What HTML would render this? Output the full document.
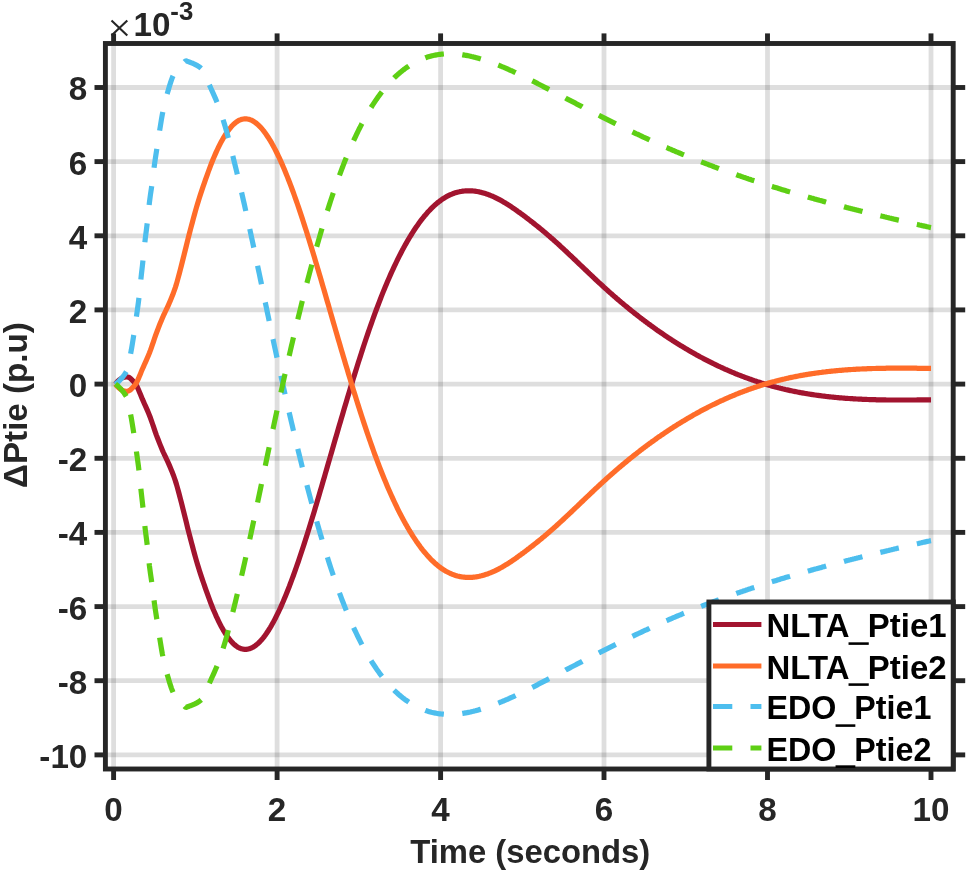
<!DOCTYPE html>
<html><head><meta charset="utf-8"><title>chart</title>
<style>
html,body{margin:0;padding:0;background:#fff;}
body{width:967px;height:872px;overflow:hidden;}
svg{display:block;will-change:transform;}
text{font-family:"Liberation Sans",sans-serif;}
.b,.b text{font-weight:bold;}
</style></head><body>
<svg width="967" height="872" viewBox="0 0 967 872">
<rect width="967" height="872" fill="#fff"/>
<g stroke="rgba(0,0,0,0.128)" stroke-width="4.8" fill="none">
<line x1="113.6" y1="43.5" x2="113.6" y2="769.0"/>
<line x1="277.1" y1="43.5" x2="277.1" y2="769.0"/>
<line x1="440.6" y1="43.5" x2="440.6" y2="769.0"/>
<line x1="604.0" y1="43.5" x2="604.0" y2="769.0"/>
<line x1="767.5" y1="43.5" x2="767.5" y2="769.0"/>
<line x1="931.0" y1="43.5" x2="931.0" y2="769.0"/>
<line x1="105.4" y1="754.9" x2="953.2" y2="754.9"/>
<line x1="105.4" y1="680.7" x2="953.2" y2="680.7"/>
<line x1="105.4" y1="606.6" x2="953.2" y2="606.6"/>
<line x1="105.4" y1="532.4" x2="953.2" y2="532.4"/>
<line x1="105.4" y1="458.3" x2="953.2" y2="458.3"/>
<line x1="105.4" y1="384.1" x2="953.2" y2="384.1"/>
<line x1="105.4" y1="309.9" x2="953.2" y2="309.9"/>
<line x1="105.4" y1="235.8" x2="953.2" y2="235.8"/>
<line x1="105.4" y1="161.6" x2="953.2" y2="161.6"/>
<line x1="105.4" y1="87.5" x2="953.2" y2="87.5"/>
</g>
<g fill="none" stroke-width="5.2" stroke-linejoin="round">
<path d="M115.4,384.0 L116.4,382.8 L117.4,381.7 L118.4,380.7 L119.4,379.8 L120.4,379.1 L121.4,378.4 L122.4,377.8 L123.4,377.4 L124.4,377.2 L125.4,376.9 L126.4,376.8 L127.4,376.9 L128.4,377.2 L129.4,377.7 L130.4,378.4 L131.4,379.4 L132.4,380.4 L133.4,381.4 L134.4,382.6 L135.4,383.8 L136.4,385.4 L137.4,387.3 L138.4,389.5 L139.4,391.9 L140.4,394.3 L141.4,396.8 L142.4,399.2 L143.4,401.4 L144.4,403.7 L145.4,405.9 L146.4,408.1 L147.4,410.4 L148.4,412.8 L149.4,415.2 L150.4,417.8 L151.4,420.6 L152.4,423.5 L153.4,426.4 L154.4,429.4 L155.4,432.3 L156.4,435.1 L157.4,437.7 L158.4,440.3 L159.4,442.9 L160.4,445.4 L161.4,447.8 L162.4,450.2 L163.4,452.5 L164.4,454.6 L165.4,456.7 L166.4,458.8 L167.4,460.9 L168.4,463.1 L169.4,465.4 L170.4,467.8 L171.4,470.2 L172.4,472.6 L173.4,475.2 L174.4,478.0 L175.4,480.9 L176.4,484.1 L177.4,487.6 L178.4,491.3 L179.4,495.0 L180.4,498.8 L181.4,502.7 L182.4,506.7 L183.4,510.7 L184.4,514.7 L185.4,518.7 L186.4,522.7 L187.4,526.8 L188.4,530.8 L189.4,534.7 L190.4,538.5 L191.4,542.3 L192.4,546.0 L193.4,549.8 L194.4,553.5 L195.4,557.1 L196.4,560.6 L197.4,564.0 L198.4,567.3 L199.4,570.5 L200.4,573.6 L201.4,576.6 L202.4,579.6 L203.4,582.5 L204.4,585.4 L205.4,588.3 L206.4,591.1 L207.4,593.9 L208.4,596.7 L209.4,599.4 L210.4,602.1 L211.4,604.7 L212.4,607.2 L213.4,609.7 L214.4,612.0 L215.4,614.3 L216.4,616.6 L217.4,618.7 L218.4,620.8 L219.4,622.8 L220.4,624.8 L221.4,626.7 L222.4,628.5 L223.4,630.3 L224.4,631.9 L225.4,633.5 L226.4,635.1 L227.4,636.5 L228.4,637.9 L229.4,639.2 L230.4,640.4 L231.4,641.6 L232.4,642.7 L233.4,643.7 L234.4,644.6 L235.4,645.4 L236.4,646.2 L237.4,646.9 L238.4,647.5 L239.4,648.0 L240.4,648.4 L241.4,648.8 L242.4,649.0 L243.4,649.2 L244.4,649.3 L245.4,649.4 L246.4,649.3 L247.4,649.2 L248.4,649.0 L249.4,648.8 L250.4,648.4 L251.4,648.0 L252.4,647.5 L253.4,646.9 L254.4,646.3 L255.4,645.6 L256.4,644.8 L257.4,644.0 L258.4,643.1 L259.4,642.1 L260.4,641.1 L261.4,640.0 L262.4,638.8 L263.4,637.6 L264.4,636.3 L265.4,634.9 L266.4,633.5 L267.4,632.0 L268.4,630.5 L269.4,628.9 L270.4,627.3 L271.4,625.6 L272.4,623.8 L273.4,622.0 L274.4,620.1 L275.4,618.2 L276.4,616.2 L277.4,614.2 L278.4,612.1 L279.4,610.0 L280.4,607.8 L281.4,605.6 L282.4,603.3 L283.4,601.0 L284.4,598.6 L285.4,596.2 L286.4,593.8 L287.4,591.3 L288.4,588.7 L289.4,586.2 L290.4,583.5 L291.4,580.9 L292.4,578.2 L293.4,575.5 L294.4,572.7 L295.4,569.9 L296.4,567.0 L297.4,564.2 L298.4,561.3 L299.4,558.3 L300.4,555.3 L301.4,552.3 L302.4,549.3 L303.4,546.2 L304.4,543.1 L305.4,540.0 L306.4,536.9 L307.4,533.7 L308.4,530.5 L309.4,527.3 L310.4,524.0 L311.4,520.8 L312.4,517.5 L313.4,514.2 L314.4,510.9 L315.4,507.5 L316.4,504.2 L317.4,500.8 L318.4,497.4 L319.4,494.0 L320.4,490.6 L321.4,487.2 L322.4,483.8 L323.4,480.3 L324.4,476.9 L325.4,473.4 L326.4,470.0 L327.4,466.5 L328.4,463.1 L329.4,459.6 L330.4,456.1 L331.4,452.7 L332.4,449.2 L333.4,445.8 L334.4,442.3 L335.4,438.8 L336.4,435.4 L337.4,432.0 L338.4,428.5 L339.4,425.1 L340.4,421.7 L341.4,418.3 L342.4,414.9 L343.4,411.5 L344.4,408.1 L345.4,404.7 L346.4,401.4 L347.4,398.1 L348.4,394.7 L349.4,391.4 L350.4,388.1 L351.4,384.8 L352.4,381.6 L353.4,378.3 L354.4,375.1 L355.4,371.9 L356.4,368.7 L357.4,365.5 L358.4,362.3 L359.4,359.2 L360.4,356.1 L361.4,353.0 L362.4,349.9 L363.4,346.8 L364.4,343.8 L365.4,340.8 L366.4,337.8 L367.4,334.9 L368.4,331.9 L369.4,329.0 L370.4,326.2 L371.4,323.3 L372.4,320.5 L373.4,317.7 L374.4,314.9 L375.4,312.2 L376.4,309.5 L377.4,306.8 L378.4,304.2 L379.4,301.6 L380.4,299.0 L381.4,296.4 L382.4,293.9 L383.4,291.4 L384.4,289.0 L385.4,286.6 L386.4,284.2 L387.4,281.8 L388.4,279.5 L389.4,277.2 L390.4,274.9 L391.4,272.7 L392.4,270.5 L393.4,268.3 L394.4,266.2 L395.4,264.1 L396.4,262.0 L397.4,259.9 L398.4,257.9 L399.4,255.9 L400.4,254.0 L401.4,252.0 L402.4,250.1 L403.4,248.3 L404.4,246.4 L405.4,244.6 L406.4,242.9 L407.4,241.1 L408.4,239.4 L409.4,237.7 L410.4,236.1 L411.4,234.5 L412.4,232.9 L413.4,231.3 L414.4,229.8 L415.4,228.3 L416.4,226.8 L417.4,225.4 L418.4,224.0 L419.4,222.6 L420.4,221.2 L421.4,219.9 L422.4,218.6 L423.4,217.4 L424.4,216.1 L425.4,215.0 L426.4,213.8 L427.4,212.6 L428.4,211.5 L429.4,210.5 L430.4,209.4 L431.4,208.4 L432.4,207.4 L433.4,206.5 L434.4,205.5 L435.4,204.6 L436.4,203.8 L437.4,202.9 L438.4,202.1 L439.4,201.4 L440.4,200.6 L441.4,199.9 L442.4,199.2 L443.4,198.5 L444.4,197.9 L445.4,197.3 L446.4,196.7 L447.4,196.2 L448.4,195.7 L449.4,195.2 L450.4,194.7 L451.4,194.3 L452.4,193.9 L453.4,193.5 L454.4,193.1 L455.4,192.8 L456.4,192.5 L457.4,192.2 L458.4,192.0 L459.4,191.8 L460.4,191.5 L461.4,191.4 L462.4,191.2 L463.4,191.1 L464.4,191.0 L465.4,190.9 L466.4,190.8 L467.4,190.8 L468.4,190.8 L469.4,190.8 L470.4,190.8 L471.4,190.8 L472.4,190.9 L473.4,191.0 L474.4,191.1 L475.4,191.2 L476.4,191.4 L477.4,191.5 L478.4,191.7 L479.4,191.9 L480.4,192.2 L481.4,192.4 L482.4,192.7 L483.4,193.0 L484.4,193.3 L485.4,193.6 L486.4,193.9 L487.4,194.2 L488.4,194.6 L489.4,195.0 L490.4,195.4 L491.4,195.8 L492.4,196.2 L493.4,196.7 L494.4,197.1 L495.4,197.6 L496.4,198.1 L497.4,198.6 L498.4,199.1 L499.4,199.6 L500.4,200.2 L501.4,200.7 L502.4,201.3 L503.4,201.9 L504.4,202.5 L505.4,203.1 L506.4,203.7 L507.4,204.3 L508.4,204.9 L509.4,205.6 L510.4,206.2 L511.4,206.9 L512.4,207.6 L513.4,208.3 L514.4,208.9 L515.4,209.6 L516.4,210.3 L517.4,211.1 L518.4,211.8 L519.4,212.5 L520.4,213.2 L521.4,214.0 L522.4,214.7 L523.4,215.4 L524.4,216.2 L525.4,216.9 L526.4,217.7 L527.4,218.5 L528.4,219.2 L529.4,220.0 L530.4,220.8 L531.4,221.5 L532.4,222.3 L533.4,223.1 L534.4,223.9 L535.4,224.7 L536.4,225.5 L537.4,226.3 L538.4,227.1 L539.4,227.9 L540.4,228.7 L541.4,229.5 L542.4,230.4 L543.4,231.2 L544.4,232.0 L545.4,232.9 L546.4,233.7 L547.4,234.6 L548.4,235.5 L549.4,236.3 L550.4,237.2 L551.4,238.1 L552.4,238.9 L553.4,239.8 L554.4,240.7 L555.4,241.6 L556.4,242.5 L557.4,243.4 L558.4,244.3 L559.4,245.2 L560.4,246.2 L561.4,247.1 L562.4,248.0 L563.4,248.9 L564.4,249.9 L565.4,250.8 L566.4,251.7 L567.4,252.7 L568.4,253.6 L569.4,254.6 L570.4,255.5 L571.4,256.4 L572.4,257.4 L573.4,258.3 L574.4,259.3 L575.4,260.2 L576.4,261.2 L577.4,262.1 L578.4,263.1 L579.4,264.1 L580.4,265.0 L581.4,266.0 L582.4,266.9 L583.4,267.9 L584.4,268.8 L585.4,269.8 L586.4,270.7 L587.4,271.7 L588.4,272.6 L589.4,273.6 L590.4,274.5 L591.4,275.5 L592.4,276.4 L593.4,277.4 L594.4,278.3 L595.4,279.3 L596.4,280.2 L597.4,281.1 L598.4,282.1 L599.4,283.0 L600.4,283.9 L601.4,284.8 L602.4,285.7 L603.4,286.7 L604.4,287.6 L605.4,288.5 L606.4,289.4 L607.4,290.3 L608.4,291.2 L609.4,292.1 L610.4,293.0 L611.4,293.8 L612.4,294.7 L613.4,295.6 L614.4,296.5 L615.4,297.3 L616.4,298.2 L617.4,299.1 L618.4,299.9 L619.4,300.8 L620.4,301.6 L621.4,302.5 L622.4,303.3 L623.4,304.1 L624.4,305.0 L625.4,305.8 L626.4,306.6 L627.4,307.4 L628.4,308.3 L629.4,309.1 L630.4,309.9 L631.4,310.7 L632.4,311.5 L633.4,312.3 L634.4,313.1 L635.4,313.9 L636.4,314.6 L637.4,315.4 L638.4,316.2 L639.4,317.0 L640.4,317.8 L641.4,318.5 L642.4,319.3 L643.4,320.0 L644.4,320.8 L645.4,321.5 L646.4,322.3 L647.4,323.0 L648.4,323.8 L649.4,324.5 L650.4,325.2 L651.4,326.0 L652.4,326.7 L653.4,327.4 L654.4,328.1 L655.4,328.8 L656.4,329.6 L657.4,330.3 L658.4,331.0 L659.4,331.7 L660.4,332.3 L661.4,333.0 L662.4,333.7 L663.4,334.4 L664.4,335.1 L665.4,335.8 L666.4,336.4 L667.4,337.1 L668.4,337.8 L669.4,338.4 L670.4,339.1 L671.4,339.7 L672.4,340.4 L673.4,341.0 L674.4,341.7 L675.4,342.3 L676.4,342.9 L677.4,343.6 L678.4,344.2 L679.4,344.8 L680.4,345.4 L681.4,346.0 L682.4,346.6 L683.4,347.2 L684.4,347.8 L685.4,348.4 L686.4,349.0 L687.4,349.6 L688.4,350.2 L689.4,350.8 L690.4,351.4 L691.4,351.9 L692.4,352.5 L693.4,353.1 L694.4,353.7 L695.4,354.2 L696.4,354.8 L697.4,355.3 L698.4,355.9 L699.4,356.4 L700.4,357.0 L701.4,357.5 L702.4,358.0 L703.4,358.6 L704.4,359.1 L705.4,359.6 L706.4,360.1 L707.4,360.6 L708.4,361.2 L709.4,361.7 L710.4,362.2 L711.4,362.7 L712.4,363.2 L713.4,363.7 L714.4,364.1 L715.4,364.6 L716.4,365.1 L717.4,365.6 L718.4,366.1 L719.4,366.5 L720.4,367.0 L721.4,367.5 L722.4,367.9 L723.4,368.4 L724.4,368.8 L725.4,369.3 L726.4,369.7 L727.4,370.2 L728.4,370.6 L729.4,371.0 L730.4,371.5 L731.4,371.9 L732.4,372.3 L733.4,372.7 L734.4,373.1 L735.4,373.6 L736.4,374.0 L737.4,374.4 L738.4,374.8 L739.4,375.2 L740.4,375.6 L741.4,375.9 L742.4,376.3 L743.4,376.7 L744.4,377.1 L745.4,377.5 L746.4,377.8 L747.4,378.2 L748.4,378.6 L749.4,378.9 L750.4,379.3 L751.4,379.6 L752.4,380.0 L753.4,380.3 L754.4,380.7 L755.4,381.0 L756.4,381.3 L757.4,381.7 L758.4,382.0 L759.4,382.3 L760.4,382.6 L761.4,383.0 L762.4,383.3 L763.4,383.6 L764.4,383.9 L765.4,384.2 L766.4,384.5 L767.4,384.8 L768.4,385.1 L769.4,385.3 L770.4,385.6 L771.4,385.9 L772.4,386.2 L773.4,386.5 L774.4,386.7 L775.4,387.0 L776.4,387.3 L777.4,387.5 L778.4,387.8 L779.4,388.0 L780.4,388.3 L781.4,388.5 L782.4,388.8 L783.4,389.0 L784.4,389.2 L785.4,389.5 L786.4,389.7 L787.4,389.9 L788.4,390.1 L789.4,390.4 L790.4,390.6 L791.4,390.8 L792.4,391.0 L793.4,391.2 L794.4,391.4 L795.4,391.6 L796.4,391.8 L797.4,392.0 L798.4,392.2 L799.4,392.4 L800.4,392.6 L801.4,392.8 L802.4,392.9 L803.4,393.1 L804.4,393.3 L805.4,393.5 L806.4,393.6 L807.4,393.8 L808.4,394.0 L809.4,394.1 L810.4,394.3 L811.4,394.4 L812.4,394.6 L813.4,394.7 L814.4,394.9 L815.4,395.0 L816.4,395.2 L817.4,395.3 L818.4,395.4 L819.4,395.6 L820.4,395.7 L821.4,395.8 L822.4,396.0 L823.4,396.1 L824.4,396.2 L825.4,396.3 L826.4,396.5 L827.4,396.6 L828.4,396.7 L829.4,396.8 L830.4,396.9 L831.4,397.0 L832.4,397.1 L833.4,397.2 L834.4,397.3 L835.4,397.4 L836.4,397.5 L837.4,397.6 L838.4,397.7 L839.4,397.8 L840.4,397.9 L841.4,397.9 L842.4,398.0 L843.4,398.1 L844.4,398.2 L845.4,398.3 L846.4,398.3 L847.4,398.4 L848.4,398.5 L849.4,398.5 L850.4,398.6 L851.4,398.7 L852.4,398.7 L853.4,398.8 L854.4,398.9 L855.4,398.9 L856.4,399.0 L857.4,399.0 L858.4,399.1 L859.4,399.1 L860.4,399.2 L861.4,399.2 L862.4,399.3 L863.4,399.3 L864.4,399.4 L865.4,399.4 L866.4,399.4 L867.4,399.5 L868.4,399.5 L869.4,399.6 L870.4,399.6 L871.4,399.6 L872.4,399.7 L873.4,399.7 L874.4,399.7 L875.4,399.7 L876.4,399.8 L877.4,399.8 L878.4,399.8 L879.4,399.8 L880.4,399.9 L881.4,399.9 L882.4,399.9 L883.4,399.9 L884.4,399.9 L885.4,399.9 L886.4,400.0 L887.4,400.0 L888.4,400.0 L889.4,400.0 L890.4,400.0 L891.4,400.0 L892.4,400.0 L893.4,400.0 L894.4,400.0 L895.4,400.0 L896.4,400.0 L897.4,400.0 L898.4,400.0 L899.4,400.0 L900.4,400.0 L901.4,400.0 L902.4,400.0 L903.4,400.0 L904.4,400.0 L905.4,400.0 L906.4,400.0 L907.4,400.0 L908.4,400.0 L909.4,400.0 L910.4,400.0 L911.4,400.0 L912.4,400.0 L913.4,400.0 L914.4,400.0 L915.4,400.0 L916.4,400.0 L917.4,399.9 L918.4,399.9 L919.4,399.9 L920.4,399.9 L921.4,399.9 L922.4,399.9 L923.4,399.9 L924.4,399.9 L925.4,399.8 L926.4,399.8 L927.4,399.8 L928.4,399.8 L929.4,399.8 L930.4,399.8 L931.0,399.8" stroke="#A2142F"/>
<path d="M115.4,384.2 L116.4,385.4 L117.4,386.5 L118.4,387.5 L119.4,388.4 L120.4,389.1 L121.4,389.8 L122.4,390.4 L123.4,390.8 L124.4,391.0 L125.4,391.3 L126.4,391.4 L127.4,391.3 L128.4,391.0 L129.4,390.5 L130.4,389.8 L131.4,388.8 L132.4,387.8 L133.4,386.8 L134.4,385.6 L135.4,384.4 L136.4,382.8 L137.4,380.9 L138.4,378.7 L139.4,376.3 L140.4,373.9 L141.4,371.4 L142.4,369.0 L143.4,366.8 L144.4,364.5 L145.4,362.3 L146.4,360.1 L147.4,357.8 L148.4,355.4 L149.4,353.0 L150.4,350.4 L151.4,347.6 L152.4,344.7 L153.4,341.8 L154.4,338.8 L155.4,335.9 L156.4,333.1 L157.4,330.5 L158.4,327.9 L159.4,325.3 L160.4,322.8 L161.4,320.4 L162.4,318.0 L163.4,315.7 L164.4,313.6 L165.4,311.5 L166.4,309.4 L167.4,307.3 L168.4,305.1 L169.4,302.8 L170.4,300.4 L171.4,298.0 L172.4,295.6 L173.4,293.0 L174.4,290.2 L175.4,287.3 L176.4,284.1 L177.4,280.6 L178.4,276.9 L179.4,273.2 L180.4,269.4 L181.4,265.5 L182.4,261.5 L183.4,257.5 L184.4,253.5 L185.4,249.5 L186.4,245.5 L187.4,241.4 L188.4,237.4 L189.4,233.5 L190.4,229.7 L191.4,225.9 L192.4,222.2 L193.4,218.4 L194.4,214.7 L195.4,211.1 L196.4,207.6 L197.4,204.2 L198.4,200.9 L199.4,197.7 L200.4,194.6 L201.4,191.6 L202.4,188.6 L203.4,185.7 L204.4,182.8 L205.4,179.9 L206.4,177.1 L207.4,174.3 L208.4,171.5 L209.4,168.8 L210.4,166.1 L211.4,163.5 L212.4,161.0 L213.4,158.5 L214.4,156.2 L215.4,153.9 L216.4,151.6 L217.4,149.5 L218.4,147.4 L219.4,145.4 L220.4,143.4 L221.4,141.5 L222.4,139.7 L223.4,137.9 L224.4,136.3 L225.4,134.7 L226.4,133.1 L227.4,131.7 L228.4,130.3 L229.4,129.0 L230.4,127.8 L231.4,126.6 L232.4,125.5 L233.4,124.5 L234.4,123.6 L235.4,122.8 L236.4,122.0 L237.4,121.3 L238.4,120.7 L239.4,120.2 L240.4,119.8 L241.4,119.4 L242.4,119.2 L243.4,119.0 L244.4,118.9 L245.4,118.8 L246.4,118.9 L247.4,119.0 L248.4,119.2 L249.4,119.4 L250.4,119.8 L251.4,120.2 L252.4,120.7 L253.4,121.3 L254.4,121.9 L255.4,122.6 L256.4,123.4 L257.4,124.2 L258.4,125.1 L259.4,126.1 L260.4,127.1 L261.4,128.2 L262.4,129.4 L263.4,130.6 L264.4,131.9 L265.4,133.3 L266.4,134.7 L267.4,136.2 L268.4,137.7 L269.4,139.3 L270.4,140.9 L271.4,142.6 L272.4,144.4 L273.4,146.2 L274.4,148.1 L275.4,150.0 L276.4,152.0 L277.4,154.0 L278.4,156.1 L279.4,158.2 L280.4,160.4 L281.4,162.6 L282.4,164.9 L283.4,167.2 L284.4,169.6 L285.4,172.0 L286.4,174.4 L287.4,176.9 L288.4,179.5 L289.4,182.0 L290.4,184.7 L291.4,187.3 L292.4,190.0 L293.4,192.7 L294.4,195.5 L295.4,198.3 L296.4,201.2 L297.4,204.0 L298.4,206.9 L299.4,209.9 L300.4,212.9 L301.4,215.9 L302.4,218.9 L303.4,222.0 L304.4,225.1 L305.4,228.2 L306.4,231.3 L307.4,234.5 L308.4,237.7 L309.4,240.9 L310.4,244.2 L311.4,247.4 L312.4,250.7 L313.4,254.0 L314.4,257.3 L315.4,260.7 L316.4,264.0 L317.4,267.4 L318.4,270.8 L319.4,274.2 L320.4,277.6 L321.4,281.0 L322.4,284.4 L323.4,287.9 L324.4,291.3 L325.4,294.8 L326.4,298.2 L327.4,301.7 L328.4,305.1 L329.4,308.6 L330.4,312.1 L331.4,315.5 L332.4,319.0 L333.4,322.4 L334.4,325.9 L335.4,329.4 L336.4,332.8 L337.4,336.2 L338.4,339.7 L339.4,343.1 L340.4,346.5 L341.4,349.9 L342.4,353.3 L343.4,356.7 L344.4,360.1 L345.4,363.5 L346.4,366.8 L347.4,370.1 L348.4,373.5 L349.4,376.8 L350.4,380.1 L351.4,383.4 L352.4,386.6 L353.4,389.9 L354.4,393.1 L355.4,396.3 L356.4,399.5 L357.4,402.7 L358.4,405.9 L359.4,409.0 L360.4,412.1 L361.4,415.2 L362.4,418.3 L363.4,421.4 L364.4,424.4 L365.4,427.4 L366.4,430.4 L367.4,433.3 L368.4,436.3 L369.4,439.2 L370.4,442.0 L371.4,444.9 L372.4,447.7 L373.4,450.5 L374.4,453.3 L375.4,456.0 L376.4,458.7 L377.4,461.4 L378.4,464.0 L379.4,466.6 L380.4,469.2 L381.4,471.8 L382.4,474.3 L383.4,476.8 L384.4,479.2 L385.4,481.6 L386.4,484.0 L387.4,486.4 L388.4,488.7 L389.4,491.0 L390.4,493.3 L391.4,495.5 L392.4,497.7 L393.4,499.9 L394.4,502.0 L395.4,504.1 L396.4,506.2 L397.4,508.3 L398.4,510.3 L399.4,512.3 L400.4,514.2 L401.4,516.2 L402.4,518.1 L403.4,519.9 L404.4,521.8 L405.4,523.6 L406.4,525.3 L407.4,527.1 L408.4,528.8 L409.4,530.5 L410.4,532.1 L411.4,533.7 L412.4,535.3 L413.4,536.9 L414.4,538.4 L415.4,539.9 L416.4,541.4 L417.4,542.8 L418.4,544.2 L419.4,545.6 L420.4,547.0 L421.4,548.3 L422.4,549.6 L423.4,550.8 L424.4,552.1 L425.4,553.2 L426.4,554.4 L427.4,555.6 L428.4,556.7 L429.4,557.7 L430.4,558.8 L431.4,559.8 L432.4,560.8 L433.4,561.7 L434.4,562.7 L435.4,563.6 L436.4,564.4 L437.4,565.3 L438.4,566.1 L439.4,566.8 L440.4,567.6 L441.4,568.3 L442.4,569.0 L443.4,569.7 L444.4,570.3 L445.4,570.9 L446.4,571.5 L447.4,572.0 L448.4,572.5 L449.4,573.0 L450.4,573.5 L451.4,573.9 L452.4,574.3 L453.4,574.7 L454.4,575.1 L455.4,575.4 L456.4,575.7 L457.4,576.0 L458.4,576.2 L459.4,576.4 L460.4,576.7 L461.4,576.8 L462.4,577.0 L463.4,577.1 L464.4,577.2 L465.4,577.3 L466.4,577.4 L467.4,577.4 L468.4,577.4 L469.4,577.4 L470.4,577.4 L471.4,577.4 L472.4,577.3 L473.4,577.2 L474.4,577.1 L475.4,577.0 L476.4,576.8 L477.4,576.7 L478.4,576.5 L479.4,576.3 L480.4,576.0 L481.4,575.8 L482.4,575.5 L483.4,575.2 L484.4,574.9 L485.4,574.6 L486.4,574.3 L487.4,574.0 L488.4,573.6 L489.4,573.2 L490.4,572.8 L491.4,572.4 L492.4,572.0 L493.4,571.5 L494.4,571.1 L495.4,570.6 L496.4,570.1 L497.4,569.6 L498.4,569.1 L499.4,568.6 L500.4,568.0 L501.4,567.5 L502.4,566.9 L503.4,566.3 L504.4,565.7 L505.4,565.1 L506.4,564.5 L507.4,563.9 L508.4,563.3 L509.4,562.6 L510.4,562.0 L511.4,561.3 L512.4,560.6 L513.4,559.9 L514.4,559.3 L515.4,558.6 L516.4,557.9 L517.4,557.1 L518.4,556.4 L519.4,555.7 L520.4,555.0 L521.4,554.2 L522.4,553.5 L523.4,552.8 L524.4,552.0 L525.4,551.3 L526.4,550.5 L527.4,549.7 L528.4,549.0 L529.4,548.2 L530.4,547.4 L531.4,546.7 L532.4,545.9 L533.4,545.1 L534.4,544.3 L535.4,543.5 L536.4,542.7 L537.4,541.9 L538.4,541.1 L539.4,540.3 L540.4,539.5 L541.4,538.7 L542.4,537.8 L543.4,537.0 L544.4,536.2 L545.4,535.3 L546.4,534.5 L547.4,533.6 L548.4,532.7 L549.4,531.9 L550.4,531.0 L551.4,530.1 L552.4,529.3 L553.4,528.4 L554.4,527.5 L555.4,526.6 L556.4,525.7 L557.4,524.8 L558.4,523.9 L559.4,523.0 L560.4,522.0 L561.4,521.1 L562.4,520.2 L563.4,519.3 L564.4,518.3 L565.4,517.4 L566.4,516.5 L567.4,515.5 L568.4,514.6 L569.4,513.6 L570.4,512.7 L571.4,511.8 L572.4,510.8 L573.4,509.9 L574.4,508.9 L575.4,508.0 L576.4,507.0 L577.4,506.1 L578.4,505.1 L579.4,504.1 L580.4,503.2 L581.4,502.2 L582.4,501.3 L583.4,500.3 L584.4,499.4 L585.4,498.4 L586.4,497.5 L587.4,496.5 L588.4,495.6 L589.4,494.6 L590.4,493.7 L591.4,492.7 L592.4,491.8 L593.4,490.8 L594.4,489.9 L595.4,488.9 L596.4,488.0 L597.4,487.1 L598.4,486.1 L599.4,485.2 L600.4,484.3 L601.4,483.4 L602.4,482.5 L603.4,481.5 L604.4,480.6 L605.4,479.7 L606.4,478.8 L607.4,477.9 L608.4,477.0 L609.4,476.1 L610.4,475.2 L611.4,474.4 L612.4,473.5 L613.4,472.6 L614.4,471.7 L615.4,470.9 L616.4,470.0 L617.4,469.1 L618.4,468.3 L619.4,467.4 L620.4,466.6 L621.4,465.7 L622.4,464.9 L623.4,464.1 L624.4,463.2 L625.4,462.4 L626.4,461.6 L627.4,460.8 L628.4,459.9 L629.4,459.1 L630.4,458.3 L631.4,457.5 L632.4,456.7 L633.4,455.9 L634.4,455.1 L635.4,454.3 L636.4,453.6 L637.4,452.8 L638.4,452.0 L639.4,451.2 L640.4,450.4 L641.4,449.7 L642.4,448.9 L643.4,448.2 L644.4,447.4 L645.4,446.7 L646.4,445.9 L647.4,445.2 L648.4,444.4 L649.4,443.7 L650.4,443.0 L651.4,442.2 L652.4,441.5 L653.4,440.8 L654.4,440.1 L655.4,439.4 L656.4,438.6 L657.4,437.9 L658.4,437.2 L659.4,436.5 L660.4,435.9 L661.4,435.2 L662.4,434.5 L663.4,433.8 L664.4,433.1 L665.4,432.4 L666.4,431.8 L667.4,431.1 L668.4,430.4 L669.4,429.8 L670.4,429.1 L671.4,428.5 L672.4,427.8 L673.4,427.2 L674.4,426.5 L675.4,425.9 L676.4,425.3 L677.4,424.6 L678.4,424.0 L679.4,423.4 L680.4,422.8 L681.4,422.2 L682.4,421.6 L683.4,421.0 L684.4,420.4 L685.4,419.8 L686.4,419.2 L687.4,418.6 L688.4,418.0 L689.4,417.4 L690.4,416.8 L691.4,416.3 L692.4,415.7 L693.4,415.1 L694.4,414.5 L695.4,414.0 L696.4,413.4 L697.4,412.9 L698.4,412.3 L699.4,411.8 L700.4,411.2 L701.4,410.7 L702.4,410.2 L703.4,409.6 L704.4,409.1 L705.4,408.6 L706.4,408.1 L707.4,407.6 L708.4,407.0 L709.4,406.5 L710.4,406.0 L711.4,405.5 L712.4,405.0 L713.4,404.5 L714.4,404.1 L715.4,403.6 L716.4,403.1 L717.4,402.6 L718.4,402.1 L719.4,401.7 L720.4,401.2 L721.4,400.7 L722.4,400.3 L723.4,399.8 L724.4,399.4 L725.4,398.9 L726.4,398.5 L727.4,398.0 L728.4,397.6 L729.4,397.2 L730.4,396.7 L731.4,396.3 L732.4,395.9 L733.4,395.5 L734.4,395.1 L735.4,394.6 L736.4,394.2 L737.4,393.8 L738.4,393.4 L739.4,393.0 L740.4,392.6 L741.4,392.3 L742.4,391.9 L743.4,391.5 L744.4,391.1 L745.4,390.7 L746.4,390.4 L747.4,390.0 L748.4,389.6 L749.4,389.3 L750.4,388.9 L751.4,388.6 L752.4,388.2 L753.4,387.9 L754.4,387.5 L755.4,387.2 L756.4,386.9 L757.4,386.5 L758.4,386.2 L759.4,385.9 L760.4,385.6 L761.4,385.2 L762.4,384.9 L763.4,384.6 L764.4,384.3 L765.4,384.0 L766.4,383.7 L767.4,383.4 L768.4,383.1 L769.4,382.9 L770.4,382.6 L771.4,382.3 L772.4,382.0 L773.4,381.7 L774.4,381.5 L775.4,381.2 L776.4,380.9 L777.4,380.7 L778.4,380.4 L779.4,380.2 L780.4,379.9 L781.4,379.7 L782.4,379.4 L783.4,379.2 L784.4,379.0 L785.4,378.7 L786.4,378.5 L787.4,378.3 L788.4,378.1 L789.4,377.8 L790.4,377.6 L791.4,377.4 L792.4,377.2 L793.4,377.0 L794.4,376.8 L795.4,376.6 L796.4,376.4 L797.4,376.2 L798.4,376.0 L799.4,375.8 L800.4,375.6 L801.4,375.4 L802.4,375.3 L803.4,375.1 L804.4,374.9 L805.4,374.7 L806.4,374.6 L807.4,374.4 L808.4,374.2 L809.4,374.1 L810.4,373.9 L811.4,373.8 L812.4,373.6 L813.4,373.5 L814.4,373.3 L815.4,373.2 L816.4,373.0 L817.4,372.9 L818.4,372.8 L819.4,372.6 L820.4,372.5 L821.4,372.4 L822.4,372.2 L823.4,372.1 L824.4,372.0 L825.4,371.9 L826.4,371.7 L827.4,371.6 L828.4,371.5 L829.4,371.4 L830.4,371.3 L831.4,371.2 L832.4,371.1 L833.4,371.0 L834.4,370.9 L835.4,370.8 L836.4,370.7 L837.4,370.6 L838.4,370.5 L839.4,370.4 L840.4,370.3 L841.4,370.3 L842.4,370.2 L843.4,370.1 L844.4,370.0 L845.4,369.9 L846.4,369.9 L847.4,369.8 L848.4,369.7 L849.4,369.7 L850.4,369.6 L851.4,369.5 L852.4,369.5 L853.4,369.4 L854.4,369.3 L855.4,369.3 L856.4,369.2 L857.4,369.2 L858.4,369.1 L859.4,369.1 L860.4,369.0 L861.4,369.0 L862.4,368.9 L863.4,368.9 L864.4,368.8 L865.4,368.8 L866.4,368.8 L867.4,368.7 L868.4,368.7 L869.4,368.6 L870.4,368.6 L871.4,368.6 L872.4,368.5 L873.4,368.5 L874.4,368.5 L875.4,368.5 L876.4,368.4 L877.4,368.4 L878.4,368.4 L879.4,368.4 L880.4,368.3 L881.4,368.3 L882.4,368.3 L883.4,368.3 L884.4,368.3 L885.4,368.3 L886.4,368.2 L887.4,368.2 L888.4,368.2 L889.4,368.2 L890.4,368.2 L891.4,368.2 L892.4,368.2 L893.4,368.2 L894.4,368.2 L895.4,368.2 L896.4,368.2 L897.4,368.2 L898.4,368.2 L899.4,368.2 L900.4,368.2 L901.4,368.2 L902.4,368.2 L903.4,368.2 L904.4,368.2 L905.4,368.2 L906.4,368.2 L907.4,368.2 L908.4,368.2 L909.4,368.2 L910.4,368.2 L911.4,368.2 L912.4,368.2 L913.4,368.2 L914.4,368.2 L915.4,368.2 L916.4,368.2 L917.4,368.3 L918.4,368.3 L919.4,368.3 L920.4,368.3 L921.4,368.3 L922.4,368.3 L923.4,368.3 L924.4,368.3 L925.4,368.4 L926.4,368.4 L927.4,368.4 L928.4,368.4 L929.4,368.4 L930.4,368.4 L931.0,368.4" stroke="#FF6C29"/>
<path d="M115.4,384.2 L116.4,383.4 L117.4,382.6 L118.4,381.7 L119.4,380.7 L120.4,379.7 L121.4,378.5 L122.4,377.4 L123.4,376.1 L124.4,374.7 L125.4,373.2 L126.4,371.6 L127.4,368.4 L128.4,363.4 L129.4,359.1 L130.4,354.8 L131.4,349.6 L132.4,343.6 L133.4,337.3 L134.4,330.8 L135.4,323.9 L136.4,316.8 L137.4,309.7 L138.4,302.4 L139.4,293.9 L140.4,283.8 L141.4,274.4 L142.4,265.7 L143.4,256.4 L144.4,246.4 L145.4,237.5 L146.4,229.8 L147.4,221.6 L148.4,212.0 L149.4,202.6 L150.4,195.0 L151.4,188.3 L152.4,181.1 L153.4,173.0 L154.4,165.1 L155.4,158.1 L156.4,151.7 L157.4,145.2 L158.4,138.6 L159.4,132.1 L160.4,125.8 L161.4,119.7 L162.4,114.0 L163.4,109.2 L164.4,104.7 L165.4,100.6 L166.4,96.8 L167.4,93.1 L168.4,89.7 L169.4,86.3 L170.4,83.1 L171.4,80.1 L172.4,77.4 L173.4,75.1 L174.4,73.0 L175.4,71.0 L176.4,69.2 L177.4,67.7 L178.4,66.5 L179.4,65.5 L180.4,64.7 L181.4,64.0 L182.4,63.4 L183.4,62.7 L184.4,62.0 L185.4,61.0 L186.4,60.9 L187.4,61.3 L188.4,61.7 L189.4,62.1 L190.4,62.4 L191.4,62.8 L192.4,63.2 L193.4,63.7 L194.4,64.1 L195.4,64.6 L196.4,65.1 L197.4,65.6 L198.4,66.3 L199.4,66.9 L200.4,67.7 L201.4,68.6 L202.4,69.8 L203.4,71.4 L204.4,73.5 L205.4,75.8 L206.4,78.0 L207.4,80.2 L208.4,82.6 L209.4,84.9 L210.4,87.2 L211.4,89.5 L212.4,91.7 L213.4,93.9 L214.4,96.1 L215.4,98.4 L216.4,100.8 L217.4,103.3 L218.4,106.0 L219.4,108.7 L220.4,111.6 L221.4,114.5 L222.4,117.6 L223.4,120.7 L224.4,123.9 L225.4,127.3 L226.4,130.8 L227.4,134.4 L228.4,138.2 L229.4,142.2 L230.4,146.2 L231.4,150.2 L232.4,154.3 L233.4,158.3 L234.4,162.4 L235.4,166.4 L236.4,170.5 L237.4,174.7 L238.4,178.8 L239.4,183.0 L240.4,187.3 L241.4,191.6 L242.4,195.9 L243.4,200.3 L244.4,204.7 L245.4,209.2 L246.4,213.7 L247.4,218.2 L248.4,222.8 L249.4,227.4 L250.4,232.0 L251.4,236.6 L252.4,241.3 L253.4,245.9 L254.4,250.6 L255.4,255.4 L256.4,260.1 L257.4,264.8 L258.4,269.6 L259.4,274.3 L260.4,279.1 L261.4,283.9 L262.4,288.7 L263.4,293.4 L264.4,298.2 L265.4,303.0 L266.4,307.8 L267.4,312.6 L268.4,317.3 L269.4,322.1 L270.4,326.8 L271.4,331.6 L272.4,336.3 L273.4,341.0 L274.4,345.7 L275.4,350.3 L276.4,355.0 L277.4,359.6 L278.4,364.2 L279.4,368.8 L280.4,373.4 L281.4,377.9 L282.4,382.4 L283.4,386.9 L284.4,391.4 L285.4,395.8 L286.4,400.2 L287.4,404.6 L288.4,409.0 L289.4,413.3 L290.4,417.7 L291.4,422.0 L292.4,426.2 L293.4,430.5 L294.4,434.7 L295.4,438.9 L296.4,443.0 L297.4,447.2 L298.4,451.3 L299.4,455.4 L300.4,459.4 L301.4,463.5 L302.4,467.5 L303.4,471.4 L304.4,475.4 L305.4,479.3 L306.4,483.2 L307.4,487.0 L308.4,490.8 L309.4,494.6 L310.4,498.4 L311.4,502.1 L312.4,505.8 L313.4,509.5 L314.4,513.1 L315.4,516.7 L316.4,520.3 L317.4,523.8 L318.4,527.3 L319.4,530.8 L320.4,534.2 L321.4,537.6 L322.4,541.0 L323.4,544.3 L324.4,547.6 L325.4,550.9 L326.4,554.1 L327.4,557.3 L328.4,560.5 L329.4,563.6 L330.4,566.7 L331.4,569.7 L332.4,572.7 L333.4,575.7 L334.4,578.6 L335.4,581.5 L336.4,584.4 L337.4,587.2 L338.4,590.0 L339.4,592.7 L340.4,595.4 L341.4,598.1 L342.4,600.7 L343.4,603.3 L344.4,605.9 L345.4,608.4 L346.4,610.8 L347.4,613.3 L348.4,615.7 L349.4,618.0 L350.4,620.4 L351.4,622.6 L352.4,624.9 L353.4,627.1 L354.4,629.3 L355.4,631.4 L356.4,633.5 L357.4,635.6 L358.4,637.7 L359.4,639.7 L360.4,641.6 L361.4,643.6 L362.4,645.5 L363.4,647.4 L364.4,649.2 L365.4,651.0 L366.4,652.8 L367.4,654.5 L368.4,656.2 L369.4,657.9 L370.4,659.6 L371.4,661.2 L372.4,662.8 L373.4,664.3 L374.4,665.8 L375.4,667.3 L376.4,668.8 L377.4,670.2 L378.4,671.6 L379.4,673.0 L380.4,674.4 L381.4,675.7 L382.4,677.0 L383.4,678.3 L384.4,679.5 L385.4,680.7 L386.4,681.9 L387.4,683.1 L388.4,684.2 L389.4,685.3 L390.4,686.4 L391.4,687.5 L392.4,688.5 L393.4,689.5 L394.4,690.5 L395.4,691.5 L396.4,692.4 L397.4,693.3 L398.4,694.2 L399.4,695.1 L400.4,695.9 L401.4,696.7 L402.4,697.6 L403.4,698.3 L404.4,699.1 L405.4,699.8 L406.4,700.5 L407.4,701.2 L408.4,701.9 L409.4,702.6 L410.4,703.2 L411.4,703.8 L412.4,704.4 L413.4,705.0 L414.4,705.5 L415.4,706.1 L416.4,706.6 L417.4,707.1 L418.4,707.6 L419.4,708.0 L420.4,708.5 L421.4,708.9 L422.4,709.3 L423.4,709.7 L424.4,710.1 L425.4,710.5 L426.4,710.8 L427.4,711.1 L428.4,711.4 L429.4,711.7 L430.4,712.0 L431.4,712.3 L432.4,712.5 L433.4,712.7 L434.4,712.9 L435.4,713.1 L436.4,713.3 L437.4,713.5 L438.4,713.7 L439.4,713.8 L440.4,713.9 L441.4,714.0 L442.4,714.1 L443.4,714.2 L444.4,714.3 L445.4,714.3 L446.4,714.4 L447.4,714.4 L448.4,714.4 L449.4,714.4 L450.4,714.4 L451.4,714.4 L452.4,714.4 L453.4,714.3 L454.4,714.3 L455.4,714.2 L456.4,714.1 L457.4,714.0 L458.4,713.9 L459.4,713.8 L460.4,713.7 L461.4,713.6 L462.4,713.4 L463.4,713.3 L464.4,713.1 L465.4,712.9 L466.4,712.8 L467.4,712.6 L468.4,712.4 L469.4,712.2 L470.4,712.0 L471.4,711.7 L472.4,711.5 L473.4,711.3 L474.4,711.0 L475.4,710.8 L476.4,710.5 L477.4,710.2 L478.4,709.9 L479.4,709.6 L480.4,709.4 L481.4,709.1 L482.4,708.8 L483.4,708.4 L484.4,708.1 L485.4,707.8 L486.4,707.5 L487.4,707.1 L488.4,706.8 L489.4,706.4 L490.4,706.1 L491.4,705.7 L492.4,705.4 L493.4,705.0 L494.4,704.6 L495.4,704.2 L496.4,703.8 L497.4,703.5 L498.4,703.1 L499.4,702.7 L500.4,702.2 L501.4,701.8 L502.4,701.4 L503.4,701.0 L504.4,700.6 L505.4,700.2 L506.4,699.7 L507.4,699.3 L508.4,698.8 L509.4,698.4 L510.4,697.9 L511.4,697.5 L512.4,697.0 L513.4,696.6 L514.4,696.1 L515.4,695.7 L516.4,695.2 L517.4,694.7 L518.4,694.2 L519.4,693.8 L520.4,693.3 L521.4,692.8 L522.4,692.3 L523.4,691.8 L524.4,691.3 L525.4,690.8 L526.4,690.3 L527.4,689.8 L528.4,689.3 L529.4,688.8 L530.4,688.3 L531.4,687.8 L532.4,687.3 L533.4,686.8 L534.4,686.3 L535.4,685.8 L536.4,685.3 L537.4,684.8 L538.4,684.2 L539.4,683.7 L540.4,683.2 L541.4,682.7 L542.4,682.2 L543.4,681.6 L544.4,681.1 L545.4,680.6 L546.4,680.1 L547.4,679.6 L548.4,679.0 L549.4,678.5 L550.4,678.0 L551.4,677.5 L552.4,676.9 L553.4,676.4 L554.4,675.9 L555.4,675.4 L556.4,674.9 L557.4,674.3 L558.4,673.8 L559.4,673.3 L560.4,672.8 L561.4,672.2 L562.4,671.7 L563.4,671.2 L564.4,670.7 L565.4,670.2 L566.4,669.6 L567.4,669.1 L568.4,668.6 L569.4,668.1 L570.4,667.6 L571.4,667.0 L572.4,666.5 L573.4,666.0 L574.4,665.5 L575.4,665.0 L576.4,664.4 L577.4,663.9 L578.4,663.4 L579.4,662.9 L580.4,662.4 L581.4,661.9 L582.4,661.3 L583.4,660.8 L584.4,660.3 L585.4,659.8 L586.4,659.3 L587.4,658.8 L588.4,658.3 L589.4,657.8 L590.4,657.2 L591.4,656.7 L592.4,656.2 L593.4,655.7 L594.4,655.2 L595.4,654.7 L596.4,654.2 L597.4,653.7 L598.4,653.2 L599.4,652.7 L600.4,652.1 L601.4,651.6 L602.4,651.1 L603.4,650.6 L604.4,650.1 L605.4,649.6 L606.4,649.1 L607.4,648.6 L608.4,648.1 L609.4,647.6 L610.4,647.1 L611.4,646.6 L612.4,646.1 L613.4,645.6 L614.4,645.1 L615.4,644.6 L616.4,644.1 L617.4,643.7 L618.4,643.2 L619.4,642.7 L620.4,642.2 L621.4,641.7 L622.4,641.2 L623.4,640.7 L624.4,640.2 L625.4,639.7 L626.4,639.2 L627.4,638.8 L628.4,638.3 L629.4,637.8 L630.4,637.3 L631.4,636.8 L632.4,636.4 L633.4,635.9 L634.4,635.4 L635.4,634.9 L636.4,634.4 L637.4,634.0 L638.4,633.5 L639.4,633.0 L640.4,632.6 L641.4,632.1 L642.4,631.6 L643.4,631.1 L644.4,630.7 L645.4,630.2 L646.4,629.8 L647.4,629.3 L648.4,628.8 L649.4,628.4 L650.4,627.9 L651.4,627.4 L652.4,627.0 L653.4,626.5 L654.4,626.1 L655.4,625.6 L656.4,625.2 L657.4,624.7 L658.4,624.3 L659.4,623.8 L660.4,623.4 L661.4,622.9 L662.4,622.5 L663.4,622.1 L664.4,621.6 L665.4,621.2 L666.4,620.7 L667.4,620.3 L668.4,619.9 L669.4,619.4 L670.4,619.0 L671.4,618.6 L672.4,618.1 L673.4,617.7 L674.4,617.3 L675.4,616.9 L676.4,616.4 L677.4,616.0 L678.4,615.6 L679.4,615.2 L680.4,614.8 L681.4,614.3 L682.4,613.9 L683.4,613.5 L684.4,613.1 L685.4,612.7 L686.4,612.3 L687.4,611.9 L688.4,611.5 L689.4,611.1 L690.4,610.7 L691.4,610.3 L692.4,609.9 L693.4,609.5 L694.4,609.1 L695.4,608.7 L696.4,608.3 L697.4,607.9 L698.4,607.5 L699.4,607.1 L700.4,606.7 L701.4,606.3 L702.4,605.9 L703.4,605.5 L704.4,605.1 L705.4,604.8 L706.4,604.4 L707.4,604.0 L708.4,603.6 L709.4,603.2 L710.4,602.9 L711.4,602.5 L712.4,602.1 L713.4,601.7 L714.4,601.3 L715.4,601.0 L716.4,600.6 L717.4,600.2 L718.4,599.9 L719.4,599.5 L720.4,599.1 L721.4,598.8 L722.4,598.4 L723.4,598.0 L724.4,597.7 L725.4,597.3 L726.4,597.0 L727.4,596.6 L728.4,596.2 L729.4,595.9 L730.4,595.5 L731.4,595.2 L732.4,594.8 L733.4,594.5 L734.4,594.1 L735.4,593.8 L736.4,593.4 L737.4,593.1 L738.4,592.7 L739.4,592.4 L740.4,592.1 L741.4,591.7 L742.4,591.4 L743.4,591.0 L744.4,590.7 L745.4,590.4 L746.4,590.0 L747.4,589.7 L748.4,589.3 L749.4,589.0 L750.4,588.7 L751.4,588.3 L752.4,588.0 L753.4,587.7 L754.4,587.4 L755.4,587.0 L756.4,586.7 L757.4,586.4 L758.4,586.1 L759.4,585.7 L760.4,585.4 L761.4,585.1 L762.4,584.8 L763.4,584.4 L764.4,584.1 L765.4,583.8 L766.4,583.5 L767.4,583.2 L768.4,582.9 L769.4,582.5 L770.4,582.2 L771.4,581.9 L772.4,581.6 L773.4,581.3 L774.4,581.0 L775.4,580.7 L776.4,580.4 L777.4,580.1 L778.4,579.8 L779.4,579.5 L780.4,579.1 L781.4,578.8 L782.4,578.5 L783.4,578.2 L784.4,577.9 L785.4,577.6 L786.4,577.3 L787.4,577.0 L788.4,576.7 L789.4,576.5 L790.4,576.2 L791.4,575.9 L792.4,575.6 L793.4,575.3 L794.4,575.0 L795.4,574.7 L796.4,574.4 L797.4,574.1 L798.4,573.8 L799.4,573.5 L800.4,573.2 L801.4,573.0 L802.4,572.7 L803.4,572.4 L804.4,572.1 L805.4,571.8 L806.4,571.5 L807.4,571.3 L808.4,571.0 L809.4,570.7 L810.4,570.4 L811.4,570.1 L812.4,569.9 L813.4,569.6 L814.4,569.3 L815.4,569.0 L816.4,568.8 L817.4,568.5 L818.4,568.2 L819.4,567.9 L820.4,567.7 L821.4,567.4 L822.4,567.1 L823.4,566.8 L824.4,566.6 L825.4,566.3 L826.4,566.0 L827.4,565.8 L828.4,565.5 L829.4,565.2 L830.4,565.0 L831.4,564.7 L832.4,564.4 L833.4,564.2 L834.4,563.9 L835.4,563.7 L836.4,563.4 L837.4,563.1 L838.4,562.9 L839.4,562.6 L840.4,562.3 L841.4,562.1 L842.4,561.8 L843.4,561.6 L844.4,561.3 L845.4,561.1 L846.4,560.8 L847.4,560.5 L848.4,560.3 L849.4,560.0 L850.4,559.8 L851.4,559.5 L852.4,559.3 L853.4,559.0 L854.4,558.8 L855.4,558.5 L856.4,558.3 L857.4,558.0 L858.4,557.8 L859.4,557.5 L860.4,557.3 L861.4,557.0 L862.4,556.8 L863.4,556.5 L864.4,556.3 L865.4,556.0 L866.4,555.8 L867.4,555.5 L868.4,555.3 L869.4,555.0 L870.4,554.8 L871.4,554.6 L872.4,554.3 L873.4,554.1 L874.4,553.8 L875.4,553.6 L876.4,553.3 L877.4,553.1 L878.4,552.9 L879.4,552.6 L880.4,552.4 L881.4,552.1 L882.4,551.9 L883.4,551.7 L884.4,551.4 L885.4,551.2 L886.4,550.9 L887.4,550.7 L888.4,550.5 L889.4,550.2 L890.4,550.0 L891.4,549.8 L892.4,549.5 L893.4,549.3 L894.4,549.0 L895.4,548.8 L896.4,548.6 L897.4,548.3 L898.4,548.1 L899.4,547.9 L900.4,547.6 L901.4,547.4 L902.4,547.2 L903.4,546.9 L904.4,546.7 L905.4,546.5 L906.4,546.2 L907.4,546.0 L908.4,545.8 L909.4,545.5 L910.4,545.3 L911.4,545.1 L912.4,544.8 L913.4,544.6 L914.4,544.4 L915.4,544.2 L916.4,543.9 L917.4,543.7 L918.4,543.5 L919.4,543.2 L920.4,543.0 L921.4,542.8 L922.4,542.5 L923.4,542.3 L924.4,542.1 L925.4,541.9 L926.4,541.6 L927.4,541.4 L928.4,541.2 L929.4,541.0 L930.4,540.7 L931.0,540.6" stroke="#4DBEEE" stroke-dasharray="19 18.5" stroke-dashoffset="2.3"/>
<path d="M115.4,384.0 L116.4,384.8 L117.4,385.6 L118.4,386.5 L119.4,387.5 L120.4,388.5 L121.4,389.7 L122.4,390.8 L123.4,392.1 L124.4,393.5 L125.4,395.0 L126.4,396.6 L127.4,399.8 L128.4,404.8 L129.4,409.1 L130.4,413.4 L131.4,418.6 L132.4,424.6 L133.4,430.9 L134.4,437.4 L135.4,444.3 L136.4,451.4 L137.4,458.5 L138.4,465.8 L139.4,474.3 L140.4,484.4 L141.4,493.8 L142.4,502.5 L143.4,511.8 L144.4,521.8 L145.4,530.7 L146.4,538.4 L147.4,546.6 L148.4,556.2 L149.4,565.6 L150.4,573.2 L151.4,579.9 L152.4,587.1 L153.4,595.2 L154.4,603.1 L155.4,610.1 L156.4,616.5 L157.4,623.0 L158.4,629.6 L159.4,636.1 L160.4,642.4 L161.4,648.5 L162.4,654.2 L163.4,659.0 L164.4,663.5 L165.4,667.6 L166.4,671.4 L167.4,675.1 L168.4,678.5 L169.4,681.9 L170.4,685.1 L171.4,688.1 L172.4,690.8 L173.4,693.1 L174.4,695.2 L175.4,697.2 L176.4,699.0 L177.4,700.5 L178.4,701.7 L179.4,702.7 L180.4,703.5 L181.4,704.2 L182.4,704.8 L183.4,705.5 L184.4,706.2 L185.4,707.2 L186.4,707.3 L187.4,706.9 L188.4,706.5 L189.4,706.1 L190.4,705.8 L191.4,705.4 L192.4,705.0 L193.4,704.5 L194.4,704.1 L195.4,703.6 L196.4,703.1 L197.4,702.6 L198.4,701.9 L199.4,701.3 L200.4,700.5 L201.4,699.6 L202.4,698.4 L203.4,696.8 L204.4,694.7 L205.4,692.4 L206.4,690.2 L207.4,688.0 L208.4,685.6 L209.4,683.3 L210.4,681.0 L211.4,678.7 L212.4,676.5 L213.4,674.3 L214.4,672.1 L215.4,669.8 L216.4,667.4 L217.4,664.9 L218.4,662.2 L219.4,659.5 L220.4,656.6 L221.4,653.7 L222.4,650.6 L223.4,647.5 L224.4,644.3 L225.4,640.9 L226.4,637.4 L227.4,633.8 L228.4,630.0 L229.4,626.0 L230.4,622.0 L231.4,618.0 L232.4,613.9 L233.4,609.9 L234.4,605.8 L235.4,601.8 L236.4,597.7 L237.4,593.5 L238.4,589.4 L239.4,585.2 L240.4,580.9 L241.4,576.6 L242.4,572.3 L243.4,567.9 L244.4,563.5 L245.4,559.0 L246.4,554.5 L247.4,550.0 L248.4,545.4 L249.4,540.8 L250.4,536.2 L251.4,531.6 L252.4,526.9 L253.4,522.3 L254.4,517.6 L255.4,512.8 L256.4,508.1 L257.4,503.4 L258.4,498.6 L259.4,493.9 L260.4,489.1 L261.4,484.3 L262.4,479.5 L263.4,474.8 L264.4,470.0 L265.4,465.2 L266.4,460.4 L267.4,455.6 L268.4,450.9 L269.4,446.1 L270.4,441.4 L271.4,436.6 L272.4,431.9 L273.4,427.2 L274.4,422.5 L275.4,417.9 L276.4,413.2 L277.4,408.6 L278.4,404.0 L279.4,399.4 L280.4,394.8 L281.4,390.3 L282.4,385.8 L283.4,381.3 L284.4,376.8 L285.4,372.4 L286.4,368.0 L287.4,363.6 L288.4,359.2 L289.4,354.9 L290.4,350.5 L291.4,346.2 L292.4,342.0 L293.4,337.7 L294.4,333.5 L295.4,329.3 L296.4,325.2 L297.4,321.0 L298.4,316.9 L299.4,312.8 L300.4,308.8 L301.4,304.7 L302.4,300.7 L303.4,296.8 L304.4,292.8 L305.4,288.9 L306.4,285.0 L307.4,281.2 L308.4,277.4 L309.4,273.6 L310.4,269.8 L311.4,266.1 L312.4,262.4 L313.4,258.7 L314.4,255.1 L315.4,251.5 L316.4,247.9 L317.4,244.4 L318.4,240.9 L319.4,237.4 L320.4,234.0 L321.4,230.6 L322.4,227.2 L323.4,223.9 L324.4,220.6 L325.4,217.3 L326.4,214.1 L327.4,210.9 L328.4,207.7 L329.4,204.6 L330.4,201.5 L331.4,198.5 L332.4,195.5 L333.4,192.5 L334.4,189.6 L335.4,186.7 L336.4,183.8 L337.4,181.0 L338.4,178.2 L339.4,175.5 L340.4,172.8 L341.4,170.1 L342.4,167.5 L343.4,164.9 L344.4,162.3 L345.4,159.8 L346.4,157.4 L347.4,154.9 L348.4,152.5 L349.4,150.2 L350.4,147.8 L351.4,145.6 L352.4,143.3 L353.4,141.1 L354.4,138.9 L355.4,136.8 L356.4,134.7 L357.4,132.6 L358.4,130.5 L359.4,128.5 L360.4,126.6 L361.4,124.6 L362.4,122.7 L363.4,120.8 L364.4,119.0 L365.4,117.2 L366.4,115.4 L367.4,113.7 L368.4,112.0 L369.4,110.3 L370.4,108.6 L371.4,107.0 L372.4,105.4 L373.4,103.9 L374.4,102.4 L375.4,100.9 L376.4,99.4 L377.4,98.0 L378.4,96.6 L379.4,95.2 L380.4,93.8 L381.4,92.5 L382.4,91.2 L383.4,89.9 L384.4,88.7 L385.4,87.5 L386.4,86.3 L387.4,85.1 L388.4,84.0 L389.4,82.9 L390.4,81.8 L391.4,80.7 L392.4,79.7 L393.4,78.7 L394.4,77.7 L395.4,76.7 L396.4,75.8 L397.4,74.9 L398.4,74.0 L399.4,73.1 L400.4,72.3 L401.4,71.5 L402.4,70.6 L403.4,69.9 L404.4,69.1 L405.4,68.4 L406.4,67.7 L407.4,67.0 L408.4,66.3 L409.4,65.6 L410.4,65.0 L411.4,64.4 L412.4,63.8 L413.4,63.2 L414.4,62.7 L415.4,62.1 L416.4,61.6 L417.4,61.1 L418.4,60.6 L419.4,60.2 L420.4,59.7 L421.4,59.3 L422.4,58.9 L423.4,58.5 L424.4,58.1 L425.4,57.7 L426.4,57.4 L427.4,57.1 L428.4,56.8 L429.4,56.5 L430.4,56.2 L431.4,55.9 L432.4,55.7 L433.4,55.5 L434.4,55.3 L435.4,55.1 L436.4,54.9 L437.4,54.7 L438.4,54.5 L439.4,54.4 L440.4,54.3 L441.4,54.2 L442.4,54.1 L443.4,54.0 L444.4,53.9 L445.4,53.9 L446.4,53.8 L447.4,53.8 L448.4,53.8 L449.4,53.8 L450.4,53.8 L451.4,53.8 L452.4,53.8 L453.4,53.9 L454.4,53.9 L455.4,54.0 L456.4,54.1 L457.4,54.2 L458.4,54.3 L459.4,54.4 L460.4,54.5 L461.4,54.6 L462.4,54.8 L463.4,54.9 L464.4,55.1 L465.4,55.3 L466.4,55.4 L467.4,55.6 L468.4,55.8 L469.4,56.0 L470.4,56.2 L471.4,56.5 L472.4,56.7 L473.4,56.9 L474.4,57.2 L475.4,57.4 L476.4,57.7 L477.4,58.0 L478.4,58.3 L479.4,58.6 L480.4,58.8 L481.4,59.1 L482.4,59.4 L483.4,59.8 L484.4,60.1 L485.4,60.4 L486.4,60.7 L487.4,61.1 L488.4,61.4 L489.4,61.8 L490.4,62.1 L491.4,62.5 L492.4,62.8 L493.4,63.2 L494.4,63.6 L495.4,64.0 L496.4,64.4 L497.4,64.7 L498.4,65.1 L499.4,65.5 L500.4,66.0 L501.4,66.4 L502.4,66.8 L503.4,67.2 L504.4,67.6 L505.4,68.0 L506.4,68.5 L507.4,68.9 L508.4,69.4 L509.4,69.8 L510.4,70.3 L511.4,70.7 L512.4,71.2 L513.4,71.6 L514.4,72.1 L515.4,72.5 L516.4,73.0 L517.4,73.5 L518.4,74.0 L519.4,74.4 L520.4,74.9 L521.4,75.4 L522.4,75.9 L523.4,76.4 L524.4,76.9 L525.4,77.4 L526.4,77.9 L527.4,78.4 L528.4,78.9 L529.4,79.4 L530.4,79.9 L531.4,80.4 L532.4,80.9 L533.4,81.4 L534.4,81.9 L535.4,82.4 L536.4,82.9 L537.4,83.4 L538.4,84.0 L539.4,84.5 L540.4,85.0 L541.4,85.5 L542.4,86.0 L543.4,86.6 L544.4,87.1 L545.4,87.6 L546.4,88.1 L547.4,88.6 L548.4,89.2 L549.4,89.7 L550.4,90.2 L551.4,90.7 L552.4,91.3 L553.4,91.8 L554.4,92.3 L555.4,92.8 L556.4,93.3 L557.4,93.9 L558.4,94.4 L559.4,94.9 L560.4,95.4 L561.4,96.0 L562.4,96.5 L563.4,97.0 L564.4,97.5 L565.4,98.0 L566.4,98.6 L567.4,99.1 L568.4,99.6 L569.4,100.1 L570.4,100.6 L571.4,101.2 L572.4,101.7 L573.4,102.2 L574.4,102.7 L575.4,103.2 L576.4,103.8 L577.4,104.3 L578.4,104.8 L579.4,105.3 L580.4,105.8 L581.4,106.3 L582.4,106.9 L583.4,107.4 L584.4,107.9 L585.4,108.4 L586.4,108.9 L587.4,109.4 L588.4,109.9 L589.4,110.4 L590.4,111.0 L591.4,111.5 L592.4,112.0 L593.4,112.5 L594.4,113.0 L595.4,113.5 L596.4,114.0 L597.4,114.5 L598.4,115.0 L599.4,115.5 L600.4,116.1 L601.4,116.6 L602.4,117.1 L603.4,117.6 L604.4,118.1 L605.4,118.6 L606.4,119.1 L607.4,119.6 L608.4,120.1 L609.4,120.6 L610.4,121.1 L611.4,121.6 L612.4,122.1 L613.4,122.6 L614.4,123.1 L615.4,123.6 L616.4,124.1 L617.4,124.5 L618.4,125.0 L619.4,125.5 L620.4,126.0 L621.4,126.5 L622.4,127.0 L623.4,127.5 L624.4,128.0 L625.4,128.5 L626.4,129.0 L627.4,129.4 L628.4,129.9 L629.4,130.4 L630.4,130.9 L631.4,131.4 L632.4,131.8 L633.4,132.3 L634.4,132.8 L635.4,133.3 L636.4,133.8 L637.4,134.2 L638.4,134.7 L639.4,135.2 L640.4,135.6 L641.4,136.1 L642.4,136.6 L643.4,137.1 L644.4,137.5 L645.4,138.0 L646.4,138.4 L647.4,138.9 L648.4,139.4 L649.4,139.8 L650.4,140.3 L651.4,140.8 L652.4,141.2 L653.4,141.7 L654.4,142.1 L655.4,142.6 L656.4,143.0 L657.4,143.5 L658.4,143.9 L659.4,144.4 L660.4,144.8 L661.4,145.3 L662.4,145.7 L663.4,146.1 L664.4,146.6 L665.4,147.0 L666.4,147.5 L667.4,147.9 L668.4,148.3 L669.4,148.8 L670.4,149.2 L671.4,149.6 L672.4,150.1 L673.4,150.5 L674.4,150.9 L675.4,151.3 L676.4,151.8 L677.4,152.2 L678.4,152.6 L679.4,153.0 L680.4,153.4 L681.4,153.9 L682.4,154.3 L683.4,154.7 L684.4,155.1 L685.4,155.5 L686.4,155.9 L687.4,156.3 L688.4,156.7 L689.4,157.1 L690.4,157.5 L691.4,157.9 L692.4,158.3 L693.4,158.7 L694.4,159.1 L695.4,159.5 L696.4,159.9 L697.4,160.3 L698.4,160.7 L699.4,161.1 L700.4,161.5 L701.4,161.9 L702.4,162.3 L703.4,162.7 L704.4,163.1 L705.4,163.4 L706.4,163.8 L707.4,164.2 L708.4,164.6 L709.4,165.0 L710.4,165.3 L711.4,165.7 L712.4,166.1 L713.4,166.5 L714.4,166.9 L715.4,167.2 L716.4,167.6 L717.4,168.0 L718.4,168.3 L719.4,168.7 L720.4,169.1 L721.4,169.4 L722.4,169.8 L723.4,170.2 L724.4,170.5 L725.4,170.9 L726.4,171.2 L727.4,171.6 L728.4,172.0 L729.4,172.3 L730.4,172.7 L731.4,173.0 L732.4,173.4 L733.4,173.7 L734.4,174.1 L735.4,174.4 L736.4,174.8 L737.4,175.1 L738.4,175.5 L739.4,175.8 L740.4,176.1 L741.4,176.5 L742.4,176.8 L743.4,177.2 L744.4,177.5 L745.4,177.8 L746.4,178.2 L747.4,178.5 L748.4,178.9 L749.4,179.2 L750.4,179.5 L751.4,179.9 L752.4,180.2 L753.4,180.5 L754.4,180.8 L755.4,181.2 L756.4,181.5 L757.4,181.8 L758.4,182.1 L759.4,182.5 L760.4,182.8 L761.4,183.1 L762.4,183.4 L763.4,183.8 L764.4,184.1 L765.4,184.4 L766.4,184.7 L767.4,185.0 L768.4,185.3 L769.4,185.7 L770.4,186.0 L771.4,186.3 L772.4,186.6 L773.4,186.9 L774.4,187.2 L775.4,187.5 L776.4,187.8 L777.4,188.1 L778.4,188.4 L779.4,188.7 L780.4,189.1 L781.4,189.4 L782.4,189.7 L783.4,190.0 L784.4,190.3 L785.4,190.6 L786.4,190.9 L787.4,191.2 L788.4,191.5 L789.4,191.7 L790.4,192.0 L791.4,192.3 L792.4,192.6 L793.4,192.9 L794.4,193.2 L795.4,193.5 L796.4,193.8 L797.4,194.1 L798.4,194.4 L799.4,194.7 L800.4,195.0 L801.4,195.2 L802.4,195.5 L803.4,195.8 L804.4,196.1 L805.4,196.4 L806.4,196.7 L807.4,196.9 L808.4,197.2 L809.4,197.5 L810.4,197.8 L811.4,198.1 L812.4,198.3 L813.4,198.6 L814.4,198.9 L815.4,199.2 L816.4,199.4 L817.4,199.7 L818.4,200.0 L819.4,200.3 L820.4,200.5 L821.4,200.8 L822.4,201.1 L823.4,201.4 L824.4,201.6 L825.4,201.9 L826.4,202.2 L827.4,202.4 L828.4,202.7 L829.4,203.0 L830.4,203.2 L831.4,203.5 L832.4,203.8 L833.4,204.0 L834.4,204.3 L835.4,204.5 L836.4,204.8 L837.4,205.1 L838.4,205.3 L839.4,205.6 L840.4,205.9 L841.4,206.1 L842.4,206.4 L843.4,206.6 L844.4,206.9 L845.4,207.1 L846.4,207.4 L847.4,207.7 L848.4,207.9 L849.4,208.2 L850.4,208.4 L851.4,208.7 L852.4,208.9 L853.4,209.2 L854.4,209.4 L855.4,209.7 L856.4,209.9 L857.4,210.2 L858.4,210.4 L859.4,210.7 L860.4,210.9 L861.4,211.2 L862.4,211.4 L863.4,211.7 L864.4,211.9 L865.4,212.2 L866.4,212.4 L867.4,212.7 L868.4,212.9 L869.4,213.2 L870.4,213.4 L871.4,213.6 L872.4,213.9 L873.4,214.1 L874.4,214.4 L875.4,214.6 L876.4,214.9 L877.4,215.1 L878.4,215.3 L879.4,215.6 L880.4,215.8 L881.4,216.1 L882.4,216.3 L883.4,216.5 L884.4,216.8 L885.4,217.0 L886.4,217.3 L887.4,217.5 L888.4,217.7 L889.4,218.0 L890.4,218.2 L891.4,218.4 L892.4,218.7 L893.4,218.9 L894.4,219.2 L895.4,219.4 L896.4,219.6 L897.4,219.9 L898.4,220.1 L899.4,220.3 L900.4,220.6 L901.4,220.8 L902.4,221.0 L903.4,221.3 L904.4,221.5 L905.4,221.7 L906.4,222.0 L907.4,222.2 L908.4,222.4 L909.4,222.7 L910.4,222.9 L911.4,223.1 L912.4,223.4 L913.4,223.6 L914.4,223.8 L915.4,224.0 L916.4,224.3 L917.4,224.5 L918.4,224.7 L919.4,225.0 L920.4,225.2 L921.4,225.4 L922.4,225.7 L923.4,225.9 L924.4,226.1 L925.4,226.3 L926.4,226.6 L927.4,226.8 L928.4,227.0 L929.4,227.2 L930.4,227.5 L931.0,227.6" stroke="#5ECF14" stroke-dasharray="19 18.5" stroke-dashoffset="2.3"/>
</g>
<g stroke="#262626" stroke-width="4.9" fill="none">
<line x1="113.6" y1="43.5" x2="113.6" y2="33.4"/>
<line x1="113.6" y1="769.0" x2="113.6" y2="780.0"/>
<line x1="277.1" y1="43.5" x2="277.1" y2="33.4"/>
<line x1="277.1" y1="769.0" x2="277.1" y2="780.0"/>
<line x1="440.6" y1="43.5" x2="440.6" y2="33.4"/>
<line x1="440.6" y1="769.0" x2="440.6" y2="780.0"/>
<line x1="604.0" y1="43.5" x2="604.0" y2="33.4"/>
<line x1="604.0" y1="769.0" x2="604.0" y2="780.0"/>
<line x1="767.5" y1="43.5" x2="767.5" y2="33.4"/>
<line x1="767.5" y1="769.0" x2="767.5" y2="780.0"/>
<line x1="931.0" y1="43.5" x2="931.0" y2="33.4"/>
<line x1="931.0" y1="769.0" x2="931.0" y2="780.0"/>
<line x1="105.4" y1="754.9" x2="94.5" y2="754.9"/>
<line x1="953.2" y1="754.9" x2="965.2" y2="754.9"/>
<line x1="105.4" y1="680.7" x2="94.5" y2="680.7"/>
<line x1="953.2" y1="680.7" x2="965.2" y2="680.7"/>
<line x1="105.4" y1="606.6" x2="94.5" y2="606.6"/>
<line x1="953.2" y1="606.6" x2="965.2" y2="606.6"/>
<line x1="105.4" y1="532.4" x2="94.5" y2="532.4"/>
<line x1="953.2" y1="532.4" x2="965.2" y2="532.4"/>
<line x1="105.4" y1="458.3" x2="94.5" y2="458.3"/>
<line x1="953.2" y1="458.3" x2="965.2" y2="458.3"/>
<line x1="105.4" y1="384.1" x2="94.5" y2="384.1"/>
<line x1="953.2" y1="384.1" x2="965.2" y2="384.1"/>
<line x1="105.4" y1="309.9" x2="94.5" y2="309.9"/>
<line x1="953.2" y1="309.9" x2="965.2" y2="309.9"/>
<line x1="105.4" y1="235.8" x2="94.5" y2="235.8"/>
<line x1="953.2" y1="235.8" x2="965.2" y2="235.8"/>
<line x1="105.4" y1="161.6" x2="94.5" y2="161.6"/>
<line x1="953.2" y1="161.6" x2="965.2" y2="161.6"/>
<line x1="105.4" y1="87.5" x2="94.5" y2="87.5"/>
<line x1="953.2" y1="87.5" x2="965.2" y2="87.5"/>
<rect x="105.4" y="43.5" width="847.8000000000001" height="725.5"/>
</g>
<rect x="708.9" y="602.0" width="244.30000000000007" height="167.0" fill="#fff" stroke="#262626" stroke-width="4.9"/>
<line x1="713" y1="624.6" x2="761.4" y2="624.6" stroke="#A2142F" stroke-width="5"/>
<text transform="translate(766.5 637.4) scale(0.993 1)" font-size="33.2" fill="#000" class="b">NLTA<tspan dy="2.2" stroke="#000" stroke-width="1.3">_</tspan><tspan dy="-2.2">Ptie1</tspan></text>
<line x1="713" y1="665.9" x2="761.4" y2="665.9" stroke="#FF6C29" stroke-width="5"/>
<text transform="translate(766.5 678.7) scale(0.993 1)" font-size="33.2" fill="#000" class="b">NLTA<tspan dy="2.2" stroke="#000" stroke-width="1.3">_</tspan><tspan dy="-2.2">Ptie2</tspan></text>
<line x1="713" y1="706.6" x2="761.4" y2="706.6" stroke="#4DBEEE" stroke-width="5" stroke-dasharray="19.3 18.2"/>
<text transform="translate(766.5 719.4) scale(0.972 1)" font-size="33.2" fill="#000" class="b">EDO<tspan dy="2.2" stroke="#000" stroke-width="1.3">_</tspan><tspan dy="-2.2">Ptie1</tspan></text>
<line x1="713" y1="748.1" x2="761.4" y2="748.1" stroke="#5ECF14" stroke-width="5" stroke-dasharray="19.3 18.2"/>
<text transform="translate(766.5 760.9) scale(0.972 1)" font-size="33.2" fill="#000" class="b">EDO<tspan dy="2.2" stroke="#000" stroke-width="1.3">_</tspan><tspan dy="-2.2">Ptie2</tspan></text>
<g font-size="33.2" fill="#262626" class="b">
<text x="87.3" y="767.8" text-anchor="end">-10</text>
<text x="87.3" y="693.6" text-anchor="end">-8</text>
<text x="87.3" y="619.5" text-anchor="end">-6</text>
<text x="87.3" y="545.3" text-anchor="end">-4</text>
<text x="87.3" y="471.2" text-anchor="end">-2</text>
<text x="87.3" y="397.0" text-anchor="end">0</text>
<text x="87.3" y="322.8" text-anchor="end">2</text>
<text x="87.3" y="248.7" text-anchor="end">4</text>
<text x="87.3" y="174.5" text-anchor="end">6</text>
<text x="87.3" y="100.4" text-anchor="end">8</text>
<text x="113.6" y="821" text-anchor="middle">0</text>
<text x="277.1" y="821" text-anchor="middle">2</text>
<text x="440.6" y="821" text-anchor="middle">4</text>
<text x="604.0" y="821" text-anchor="middle">6</text>
<text x="767.5" y="821" text-anchor="middle">8</text>
<text x="931.0" y="821" text-anchor="middle">10</text>
<text x="530.2" y="862.6" text-anchor="middle" font-size="32.8">Time (seconds)</text>
<text transform="translate(27.3 405) rotate(-90)" text-anchor="middle">ΔPtie (p.u)</text>
<text x="133.5" y="36.1">10</text>
<text x="170.3" y="20.3" font-size="25.8">-3</text>
</g>
<path d="M111.5,20.4 L127.3,35.6 M127.3,20.4 L111.5,35.6" stroke="#262626" stroke-width="2.1" fill="none"/>
</svg>
</body></html>
